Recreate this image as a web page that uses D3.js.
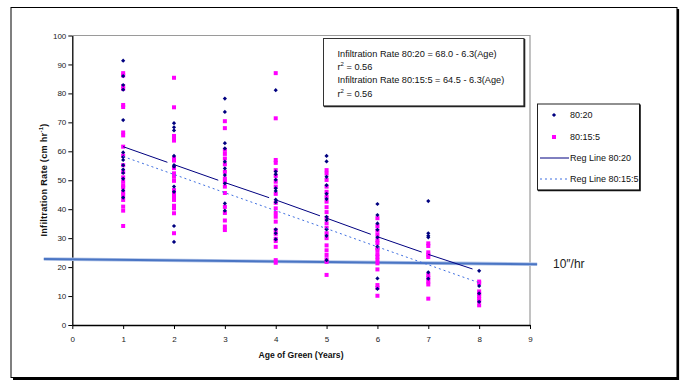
<!DOCTYPE html>
<html lang="en">
<head>
<meta charset="UTF-8" />
<title>Infiltration Rate vs Age of Green</title>
<script src="https://d3js.org/d3.v7.min.js"></script>
<style>
  body { margin: 0; background: #fff; }
  svg { display: block; font-family: "Liberation Sans", Arial, sans-serif; }
  .tick text { font-size: 8px; fill: #222; }
  .tick line, .domain { stroke: #000; }
</style>
</head>
<body>
<svg width="685" height="381"></svg>
<script>
// observations for the 80:20 mix, one array per age
const ages = [1, 2, 3, 4, 5, 6, 7, 8];
const mix8020 = [
  [91.3, 86.0, 82.9, 81.3, 70.8, 59.6, 58.0, 57.0, 55.2, 53.7, 52.5, 50.5, 46.5, 44.0],
  [69.7, 68.3, 67.2, 58.4, 55.2, 54.7, 47.8, 46.0, 34.2, 28.7],
  [78.2, 73.6, 62.8, 61.0, 56.4, 54.1, 51.8, 48.9, 42.0, 39.5],
  [81.1, 53.0, 52.1, 50.2, 47.2, 46.3, 43.3, 42.4, 33.0, 31.7, 29.6],
  [58.4, 56.5, 51.2, 48.3, 45.3, 43.5, 37.4, 36.2, 33.0, 30.8, 22.4],
  [41.8, 38.0, 35.1, 32.9, 30.3, 27.1, 16.1, 12.5],
  [42.8, 31.7, 30.8, 30.3, 18.2, 16.0],
  [18.7, 13.5, 10.9, 8.0]
];
const mix80155 = [
  [87.0, 86.2, 82.5, 81.6, 76.0, 75.3, 66.5, 65.5, 61.6, 58.5, 55.2, 52.8, 51.0, 49.5, 48.2, 47.5, 45.8, 44.8, 43.2, 40.9, 39.5, 34.2],
  [85.4, 75.2, 65.3, 64.4, 63.7, 57.6, 56.8, 54.2, 52.4, 51.2, 49.8, 46.6, 45.5, 44.3, 43.2, 41.2, 40.3, 38.6, 31.7],
  [70.4, 68.0, 60.5, 59.1, 57.5, 55.5, 52.9, 50.6, 49.5, 47.8, 45.6, 40.8, 38.7, 36.1, 34.0, 32.8],
  [87.0, 71.4, 57.0, 56.0, 53.5, 51.5, 49.5, 47.8, 45.3, 42.2, 40.3, 38.7, 37.4, 35.7, 32.8, 31.5, 29.8, 29.0, 27.0, 22.4, 21.5],
  [53.5, 52.3, 50.1, 47.8, 46.0, 44.3, 42.6, 40.7, 39.0, 37.0, 35.1, 33.5, 31.7, 30.0, 27.5, 25.8, 24.2, 22.7, 21.8, 17.3],
  [36.9, 34.2, 32.6, 31.2, 29.3, 28.3, 26.5, 25.9, 24.5, 23.6, 22.5, 21.3, 19.2, 13.8, 12.8, 10.1],
  [28.2, 27.3, 25.1, 24.3, 23.5, 17.3, 16.2, 15.0, 14.0, 9.1],
  [15.0, 14.5, 11.6, 10.8, 10.0, 9.0, 8.2, 6.8]
];
// fitted lines as drawn
const reg8020 = [61.6, 55.4, 49.2, 43.2, 36.9, 30.5, 24.4, 18.6];
const reg80155 = [58.2, 52.0, 45.7, 39.5, 33.3, 27.0, 20.8, 14.6];
// the 10"/hr reference line (ends as drawn)
const refX = [-0.56, 9.14];
const refY = [22.8, 21.0];

const xTicks = d3.range(0, 10);
const yTicks = d3.range(0, 101, 10);
const equations = [
  "Infiltration Rate 80:20 = 68.0 - 6.3(Age)",
  "r|2| = 0.56",
  "Infiltration Rate 80:15:5 = 64.5 - 6.3(Age)",
  "r|2| = 0.56"
];
const legendItems = ["80:20", "80:15:5", "Reg Line 80:20", "Reg Line 80:15:5"];

const navy = "#000080", magenta = "#ff00ff", dotBlue = "#3f6fe0", refBlue = "#4a75c4";

const svg = d3.select("svg");
const x = d3.scaleLinear().domain([0, 9]).range([72.3, 530]);
const y = d3.scaleLinear().domain([0, 100]).range([325, 35.5]);

// outer frame
svg.append("rect").attr("x", 11).attr("y", 7.5).attr("width", 666).attr("height", 370)
  .attr("fill", "#fff").attr("stroke", "#000").attr("stroke-width", 1);
svg.append("path").attr("d", "M678,9V379H13").attr("fill", "none").attr("stroke", "#000").attr("stroke-width", 2.2);

// plot area border (top/right)
svg.append("path")
  .attr("d", `M${x(0)},${y(100)}H${x(9)}V${y(0)}`)
  .attr("fill", "none").attr("stroke", "#9a9a9a").attr("stroke-width", 1.2);

// axes
svg.append("g").attr("transform", `translate(0,${y(0)})`)
  .call(d3.axisBottom(x).tickValues(xTicks).tickSize(4).tickSizeOuter(0).tickPadding(7));
svg.append("g").attr("transform", `translate(${x(0)},0)`)
  .call(d3.axisLeft(y).tickValues(yTicks).tickSize(4).tickSizeOuter(0).tickPadding(2));
svg.selectAll(".domain").attr("stroke-width", 1.3);

// axis titles
svg.append("text").attr("x", 301).attr("y", 358).attr("text-anchor", "middle")
  .attr("font-size", 8.6).attr("font-weight", "bold").attr("fill", "#111").text("Age of Green (Years)");
const yt = svg.append("text").attr("transform", "translate(47,180) rotate(-90)")
  .attr("text-anchor", "middle").attr("font-size", 9.2).attr("font-weight", "bold")
  .attr("letter-spacing", 0.25).attr("fill", "#111");
yt.append("tspan").text("Infiltration Rate (cm hr");
yt.append("tspan").attr("font-size", 6).attr("dy", -4).text("-1");
yt.append("tspan").attr("dy", 4).text(")");

// reference line 10"/hr
const refLine = d3.line().x(d => x(d[0])).y(d => y(d[1]));
const refPts = d3.zip(refX, refY);
svg.append("path").attr("d", refLine(refPts)).attr("fill", "none")
  .attr("stroke", "#b3c5e8").attr("stroke-width", 3.6);
svg.append("path").attr("d", refLine(refPts)).attr("fill", "none")
  .attr("stroke", refBlue).attr("stroke-width", 2);
svg.append("text").attr("x", 553).attr("y", 268).attr("font-size", 12).attr("fill", "#222")
  .text("10\u2033/hr");

// points
const pts = (arr) => arr.flatMap((col, i) => col.map(v => [ages[i], v]));
svg.append("g").selectAll("rect").data(pts(mix80155)).join("rect")
  .attr("x", d => x(d[0]) - 2).attr("y", d => y(d[1]) - 2)
  .attr("width", 4).attr("height", 4).attr("fill", magenta);
const diamond = (cx, cy, r) => `M${cx},${cy - r}L${cx + r},${cy}L${cx},${cy + r}L${cx - r},${cy}Z`;
svg.append("g").selectAll("path").data(pts(mix8020)).join("path")
  .attr("d", d => diamond(x(d[0]), y(d[1]), 2.1)).attr("fill", navy);

// regression lines; solid one drawn with small breaks before each age as in the original
const segs = d3.pairs(d3.zip(ages, reg8020)).map(([a, b]) => {
  const t = 0.87;
  return [a, [a[0] + (b[0] - a[0]) * t, a[1] + (b[1] - a[1]) * t]];
});
svg.append("g").selectAll("path").data(segs).join("path")
  .attr("d", d => refLine(d)).attr("fill", "none").attr("stroke", navy).attr("stroke-width", 1);
svg.append("path").attr("d", refLine(d3.zip(ages, reg80155))).attr("fill", "none")
  .attr("stroke", dotBlue).attr("stroke-width", 1).attr("stroke-dasharray", "2,3");

// equation box
svg.append("rect").attr("x", 323.5).attr("y", 38.5).attr("width", 200.5).attr("height", 67.5)
  .attr("fill", "#fff").attr("stroke", "#333").attr("stroke-width", 1);
svg.append("path").attr("d", "M524.5,39V106.5H324").attr("fill", "none").attr("stroke", "#222").attr("stroke-width", 1.6);
equations.forEach((s, i) => {
  const t = svg.append("text").attr("x", 337.5).attr("y", 56.5 + i * 13.4)
    .attr("font-size", 9.2).attr("fill", "#111");
  s.split("|").forEach((part, j) => {
    const ts = t.append("tspan").text(part);
    if (j === 1) ts.attr("font-size", 6).attr("dy", -4);
    if (j === 2) ts.attr("dy", 4);
  });
});

// legend
svg.append("rect").attr("x", 537.5).attr("y", 104).attr("width", 102).attr("height", 86)
  .attr("fill", "#fff").attr("stroke", "#222").attr("stroke-width", 1);
svg.append("path").attr("d", "M640,104.5V190.5H538").attr("fill", "none").attr("stroke", "#111").attr("stroke-width", 1.6);
const rowY = [115, 137, 158, 179];
legendItems.forEach((s, i) => {
  svg.append("text").attr("x", 570).attr("y", rowY[i] + 3.2).attr("font-size", 9).attr("fill", "#111").text(s);
});
svg.append("path").attr("d", diamond(554, rowY[0], 2.1)).attr("fill", navy);
svg.append("rect").attr("x", 552).attr("y", rowY[1] - 2).attr("width", 4).attr("height", 4).attr("fill", magenta);
svg.append("line").attr("x1", 540).attr("x2", 569).attr("y1", rowY[2]).attr("y2", rowY[2])
  .attr("stroke", navy).attr("stroke-width", 1);
svg.append("line").attr("x1", 540).attr("x2", 569).attr("y1", rowY[3]).attr("y2", rowY[3])
  .attr("stroke", dotBlue).attr("stroke-width", 1).attr("stroke-dasharray", "2,3");
</script>
</body>
</html>
